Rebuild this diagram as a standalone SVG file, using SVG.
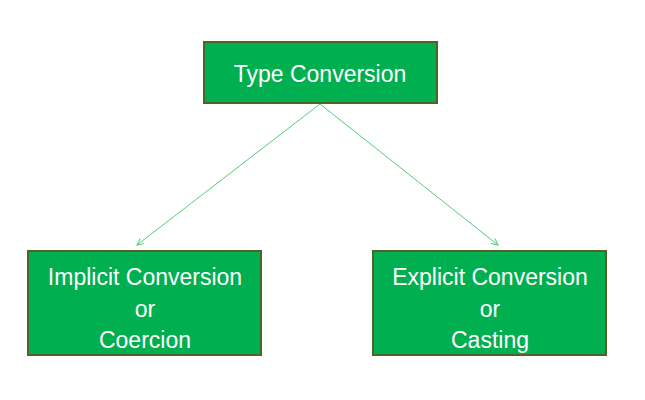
<svg xmlns="http://www.w3.org/2000/svg" width="645" height="400" viewBox="0 0 645 400">
<style>
.box{fill:#00B050;stroke:#4F6228;stroke-width:2}
.t{font-family:"Liberation Sans",Arial,sans-serif;font-size:23px;fill:#ffffff;text-anchor:middle}
.c{stroke:#4FCF78;stroke-width:1;fill:none}
</style>
<defs>
<marker id="ah" viewBox="0 0 10 10" refX="9" refY="5" markerWidth="8" markerHeight="8" orient="auto" markerUnits="userSpaceOnUse">
<path d="M1,1 L9,5 L1,9" fill="none" stroke="#4FCF78" stroke-width="1.2"/>
</marker>
</defs>
<rect width="645" height="400" fill="#ffffff"/>
<g id="connectors">
<line class="c" x1="320" y1="104" x2="137" y2="245" marker-end="url(#ah)"/>
<line class="c" x1="320" y1="104" x2="498" y2="245" marker-end="url(#ah)"/>
</g>
<g id="type-conversion">
<rect class="box" x="204" y="42" width="233" height="61"/>
<text class="t" x="320" y="82">Type Conversion</text>
</g>
<g id="implicit">
<rect class="box" x="28" y="251" width="233" height="104"/>
<text class="t" x="145" y="285">Implicit Conversion</text>
<text class="t" x="145" y="317">or</text>
<text class="t" x="145" y="348">Coercion</text>
</g>
<g id="explicit">
<rect class="box" x="373" y="251" width="233" height="104"/>
<text class="t" x="490" y="285">Explicit Conversion</text>
<text class="t" x="490" y="317">or</text>
<text class="t" x="490" y="348">Casting</text>
</g>
</svg>
